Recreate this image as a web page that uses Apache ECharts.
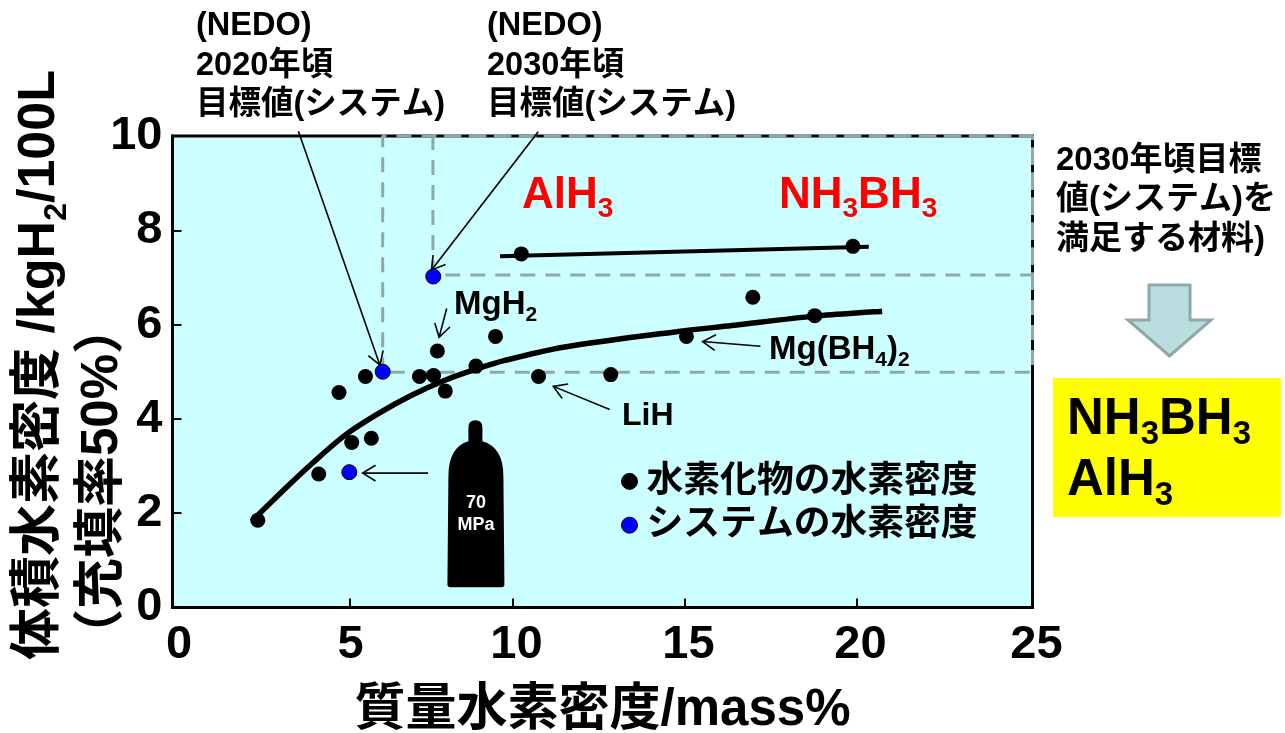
<!DOCTYPE html>
<html>
<head>
<meta charset="utf-8">
<style>
  html, body { margin: 0; background: #fff; }
  #chart { width: 1285px; height: 733px; }
</style>
</head>
<body>
<div id="chart"></div>
<script src="https://cdn.jsdelivr.net/npm/echarts@6/dist/echarts.min.js"></script>
<script>
const FONT = "'Liberation Sans','Noto Sans CJK JP',sans-serif"

// hydride points [mass%, kgH2/100L]
const hydridePoints = [
  [2.48, 1.85], [4.25, 2.83], [5.21, 3.50], [5.78, 3.59], [4.84, 4.56],
  [5.61, 4.90], [7.18, 4.90], [7.59, 4.92], [7.93, 4.59], [7.70, 5.44],
  [8.82, 5.12], [9.39, 5.75], [10.64, 4.90], [12.74, 4.94], [14.94, 5.75],
  [16.87, 6.58], [18.67, 6.19], [10.14, 7.50], [19.78, 7.66]
]
const systemPoints = [[5.14, 2.87], [6.11, 5.00], [7.58, 7.02]]
const tankPoint = [[8.82, 2.2]]

const trendCurve = [
  [2.3, 1.83], [3.27, 2.52], [4.05, 3.05], [5.01, 3.65], [5.98, 4.11],
  [6.95, 4.50], [7.92, 4.82], [8.89, 5.07], [9.66, 5.24], [11.36, 5.52],
  [14.65, 5.85], [16.26, 5.98], [18.67, 6.18], [20.63, 6.28]
]
const topLine = [[9.52, 7.45], [20.24, 7.65]]

const target2020 = [[6.11, 4.99], [6.11, 10], [25, 10], [25, 4.99], [6.11, 4.99]]
const target2030 = [[7.57, 7.05], [7.57, 10], [25, 10], [25, 7.05], [7.57, 7.05]]

// annotation arrows [fromX, fromY, toX, toY]
const arrows = [
  [3.66, 10.1, 6.03, 5.14],
  [10.63, 10.09, 7.53, 7.16],
  [7.97, 6.34, 7.75, 5.73],
  [17.09, 5.54, 15.41, 5.64],
  [12.71, 4.20, 11.07, 4.69],
  [7.43, 2.85, 5.53, 2.85]
]

const xTickLabels = [0, 5, 10, 15, 20, 25]
const xTickMarks = [5.16, 9.89, 14.9, 19.89]
const legendNames = ['水素化物の水素密度', 'システムの水素密度']

const GRAY = '#90A8A8'
const TANK = 'path://M21 21 L21 7 Q21 0 28 0 Q35 0 35 7 L35 21 Q56 27 56 56 L57 164 Q57 167 54 167 L3 167 Q0 167 0 164 L1 56 Q1 27 21 21 Z'
const chart = echarts.init(document.getElementById('chart'))

// main size f, subscript size s
function subRich(f, s, fill) {
  const base = { fontFamily: FONT, fontWeight: 'bold', fill }
  return {
    m: { ...base, fontSize: f, lineHeight: f, verticalAlign: 'top' },
    s: { ...base, fontSize: s, lineHeight: 1.13 * f, verticalAlign: 'bottom' }
  }
}

function chemText(x, y, text, f, s, fill, rotation) {
  return {
    type: 'text', x, y, z: 20, rotation: rotation || 0,
    style: { text, rich: subRich(f, s, fill), textAlign: 'left', textVerticalAlign: 'top' }
  }
}

function plainText(x, y, text, size, fill, lineHeight, align) {
  return {
    type: 'text', x, y, z: 20,
    style: {
      text, fill: fill || '#000', textAlign: align || 'left', textVerticalAlign: 'top',
      font: `bold ${size}px ${FONT}`, lineHeight: lineHeight || size
    }
  }
}

function renderArrow(params, api) {
  const a = api.coord([api.value(0), api.value(1)])
  const b = api.coord([api.value(2), api.value(3)])
  const ang = Math.atan2(b[1] - a[1], b[0] - a[0])
  const head = (d) => [b[0] - 15 * Math.cos(ang + d), b[1] - 15 * Math.sin(ang + d)]
  const style = { stroke: '#000', lineWidth: 1.6, fill: null }
  return {
    type: 'group',
    children: [
      { type: 'line', shape: { x1: a[0], y1: a[1], x2: b[0], y2: b[1] }, style },
      { type: 'polyline', shape: { points: [head(0.55), b, head(-0.55)] }, style }
    ]
  }
}

const dashed = { color: GRAY, width: 3, type: [15, 10] }
const tickRich = { fontSize: 47, fontWeight: 'bold', color: '#000' }

const option = {
  animation: false,
  backgroundColor: '#fff',
  textStyle: { fontFamily: FONT },
  grid: {
    left: 172.5, right: 252.5, top: 136, bottom: 125.5, outerBoundsMode: 'none',
    show: true, backgroundColor: '#CCFFFF', borderWidth: 3, borderColor: '#000'
  },
  xAxis: {
    type: 'value', min: 0, max: 25, interval: 5,
    name: '質量水素密度/mass%',
    nameLocation: 'middle', nameGap: 78,
    nameTextStyle: { fontSize: 51, fontWeight: 'bold', color: '#000', fontFamily: FONT },
    axisLine: { onZero: false, lineStyle: { color: '#000', width: 3 } },
    axisTick: { inside: true, length: 9, customValues: xTickMarks, lineStyle: { color: '#000', width: 2 } },
    axisLabel: {
      color: '#000', fontSize: 47, fontWeight: 'bold', margin: 14, fontFamily: FONT,
      customValues: xTickLabels,
      // the end labels sit a little to the right of their ticks in the figure
      formatter: (v) => (v === 0 ? '{a|0}' : v === 5 ? '{b|5}' : v === 25 ? '{c|25}' : String(v)),
      rich: {
        a: { ...tickRich, padding: [0, 0, 0, 13] },
        b: { ...tickRich, padding: [0, 0, 0, 12] },
        c: { ...tickRich, padding: [0, 0, 0, 8] }
      }
    },
    splitLine: { show: false }
  },
  yAxis: {
    type: 'value', min: 0, max: 10, interval: 2,
    axisLine: { show: true, onZero: false, lineStyle: { color: '#000', width: 3 } },
    axisTick: { show: true, inside: true, length: 9, lineStyle: { color: '#000', width: 2 } },
    axisLabel: { color: '#000', fontSize: 47, fontWeight: 'bold', margin: 10, padding: [6, 0, 0, 0], fontFamily: FONT },
    splitLine: { show: false }
  },
  legend: {
    data: legendNames, orient: 'vertical', left: 621, top: 463, padding: 0, itemGap: 7,
    itemWidth: 24, itemHeight: 16, itemStyle: { borderColor: '#000', borderWidth: 1 },
    textStyle: { fontSize: 36.8, fontWeight: 'bold', color: '#000', fontFamily: FONT }
  },
  series: [
    { type: 'line', data: target2020, symbol: 'none', clip: false, silent: true, z: 3, lineStyle: dashed },
    { type: 'line', data: target2030, symbol: 'none', clip: false, silent: true, z: 3, lineStyle: dashed },
    { type: 'line', data: trendCurve, smooth: 0.3, symbol: 'none', silent: true, z: 4, lineStyle: { color: '#000', width: 5.5 } },
    { type: 'line', data: topLine, symbol: 'none', silent: true, z: 4, lineStyle: { color: '#000', width: 4 } },
    { type: 'custom', data: arrows, renderItem: renderArrow, clip: false, silent: true, z: 6, encode: { x: [0, 2], y: [1, 3] } },
    {
      type: 'scatter', data: tankPoint, symbol: TANK, symbolSize: [57, 167], silent: true, z: 5,
      itemStyle: { color: '#000', opacity: 1 },
      label: {
        show: true, position: 'inside', offset: [0, 10], formatter: '70\nMPa',
        color: '#fff', fontSize: 18, fontWeight: 'bold', lineHeight: 22, fontFamily: FONT
      }
    },
    {
      name: legendNames[0], type: 'scatter', data: hydridePoints, symbolSize: 15, z: 5,
      itemStyle: { color: '#000', opacity: 1 }
    },
    {
      name: legendNames[1], type: 'scatter', data: systemPoints, symbolSize: 15, z: 5,
      itemStyle: { color: '#0000FF', borderColor: '#000', borderWidth: 1, opacity: 1 }
    }
  ],
  graphic: [
    // y axis title, two rotated lines
    chemText(14, 660, '{m|体積水素密度 /kgH}{s|2}{m|/100L}', 52, 32, '#000', Math.PI / 2),
    {
      type: 'text', x: 77, y: 660, z: 20, rotation: Math.PI / 2,
      style: { text: '（充填率50%）', font: `bold 51px ${FONT}`, fill: '#000', textAlign: 'left', textVerticalAlign: 'top' }
    },
    // NEDO targets
    plainText(196, 6.5, '(NEDO)\n2020年頃\n目標値(システム)', 32.5, '#000', 39.5),
    plainText(487, 6.5, '(NEDO)\n2030年頃\n目標値(システム)', 32.5, '#000', 39.5),
    // material names
    chemText(522, 174, '{m|AlH}{s|3}', 44, 28, '#FF0000'),
    chemText(779, 174, '{m|NH}{s|3}{m|BH}{s|3}', 44, 28, '#FF0000'),
    chemText(454, 288, '{m|MgH}{s|2}', 33, 21, '#000'),
    chemText(769, 333, '{m|Mg(BH}{s|4}{m|)}{s|2}', 33, 21, '#000'),
    plainText(622, 400, 'LiH', 32),
    // right column
    plainText(1056, 141, '2030年頃目標\n値(システム)を\n満足する材料)', 33, '#000', 39.5),
    {
      type: 'polygon', z: 10,
      shape: { points: [[1149, 285], [1190, 285], [1190, 320], [1211, 320], [1169.5, 356], [1128, 320], [1149, 320]] },
      style: { fill: '#BADEE0', stroke: '#8FA8A8', lineWidth: 3 }
    },
    { type: 'rect', z: 10, shape: { x: 1053, y: 378, width: 228, height: 139 }, style: { fill: '#FFFF00' } },
    chemText(1067, 394, '{m|NH}{s|3}{m|BH}{s|3}', 51, 33, '#000'),
    chemText(1067, 455, '{m|AlH}{s|3}', 51, 33, '#000')
  ]
}

chart.setOption(option)
</script>
</body>
</html>
